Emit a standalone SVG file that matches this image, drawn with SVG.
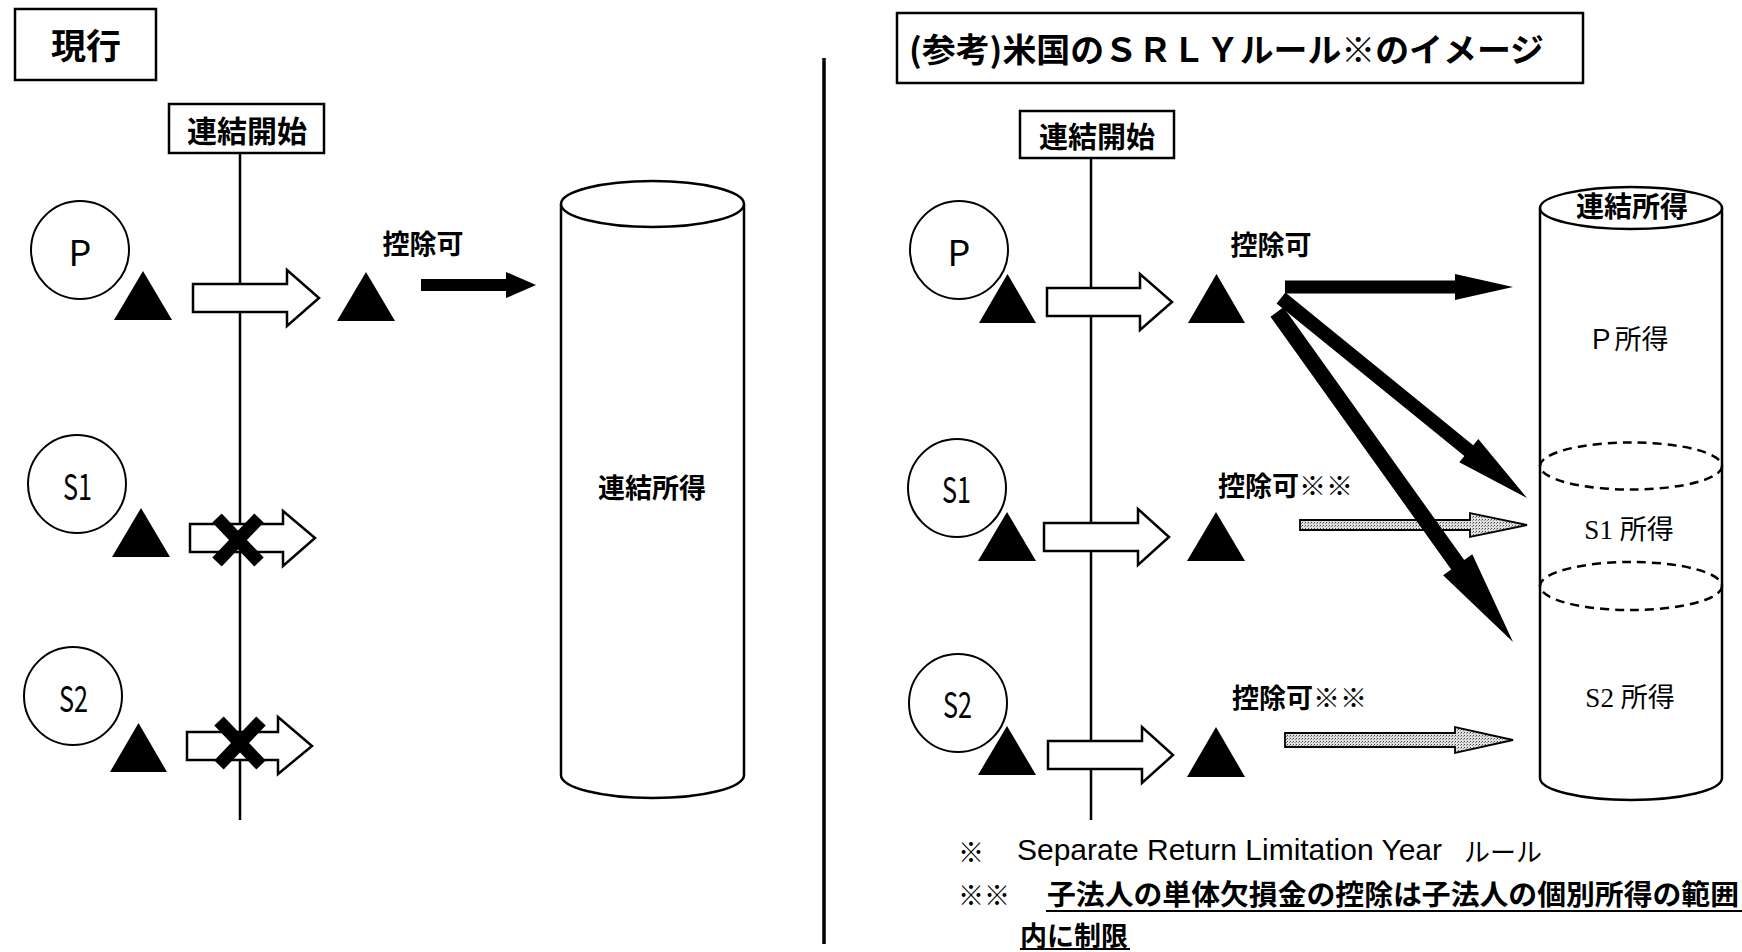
<svg xmlns="http://www.w3.org/2000/svg" width="1742" height="952" viewBox="0 0 1742 952">
<defs>
<style>
.t{font-family:'Noto Sans CJK JP','Liberation Sans',sans-serif;fill:#000}
.b{font-weight:700}
.c{text-anchor:middle;dominant-baseline:central}
.m{dominant-baseline:central}
.box{fill:#fff;stroke:#000;stroke-width:2.5}
.ln{stroke:#000;stroke-width:2.5;fill:none}
.circ{fill:#fff;stroke:#000;stroke-width:2}
.tri{fill:#000}
.hol{fill:#fff;stroke:#000;stroke-width:2.5;stroke-linejoin:miter}
.blk{fill:#000}
.gry{fill:url(#stip);stroke:#000;stroke-width:1.8}
.cyl{fill:#fff;stroke:#000;stroke-width:2.5}
.dash{fill:none;stroke:#000;stroke-width:2.5;stroke-dasharray:9 6}
.x{stroke:#000;stroke-width:13}
.ser{font-family:'Liberation Serif','Noto Sans CJK JP',serif}
</style>
<pattern id="stip" width="3" height="3" patternUnits="userSpaceOnUse">
<rect width="3" height="3" fill="#e0e0e0"/>
<rect width="1" height="1" fill="#444"/>
<rect x="2" y="1" width="1" height="1" fill="#888"/>
</pattern>
</defs>
<rect width="1742" height="952" fill="#fff"/>

<!-- LEFT PANEL -->
<g id="label-current">
<rect class="box" x="15" y="9" width="141" height="71"/>
<text class="t b c" x="86" y="43" font-size="35">現行</text>
</g>
<line id="timeline-left" class="ln" x1="240" y1="153" x2="240" y2="820"/>
<g id="start-left">
<rect class="box" x="169" y="104" width="155" height="49"/>
<text class="t b c" x="247" y="129" font-size="30">連結開始</text>
</g>

<g id="node-P-left">
<circle class="circ" cx="80" cy="250" r="49"/>
<text class="t c" x="80" y="250" font-size="36" font-family="Liberation Sans, sans-serif">P</text>
<polygon class="tri" points="143,271 114,320 172,320"/>
</g>
<g id="node-S1-left">
<circle class="circ" cx="77" cy="484" r="49"/>
<text class="t m" x="63" y="484" font-size="36" textLength="29" lengthAdjust="spacingAndGlyphs" font-family="Liberation Sans, sans-serif">S1</text>
<polygon class="tri" points="141,508 112,557 170,557"/>
</g>
<g id="node-S2-left">
<circle class="circ" cx="73" cy="696" r="49"/>
<text class="t m" x="59" y="696" font-size="36" textLength="29" lengthAdjust="spacingAndGlyphs" font-family="Liberation Sans, sans-serif">S2</text>
<polygon class="tri" points="138.5,723 110,772 167,772"/>
</g>
<g id="loss-P-left">
<polygon class="tri" points="366,272 337,321 395,321"/>
<text class="t b c" x="423" y="242" font-size="27">控除可</text>
</g>
<g id="cyl-left">
<path class="cyl" d="M561,204 V775 A91.5,23 0 0 0 744,775 V204"/>
<ellipse class="cyl" cx="652.5" cy="204" rx="91.5" ry="23"/>
<text class="t b c" x="652" y="486" font-size="27">連結所得</text>
</g>

<!-- DIVIDER -->
<line id="divider" x1="824" y1="58" x2="824" y2="944" stroke="#000" stroke-width="3.5"/>

<!-- RIGHT PANEL -->
<g id="title-ref">
<rect class="box" x="897" y="13" width="686" height="70"/>
<text class="t b m" x="909" y="48" font-size="33" textLength="635" lengthAdjust="spacingAndGlyphs">(参考)米国のＳＲＬＹルール※のイメージ</text>
</g>
<line id="timeline-right" class="ln" x1="1091" y1="158" x2="1091" y2="820"/>
<g id="start-right">
<rect class="box" x="1020" y="111" width="154" height="47"/>
<text class="t b c" x="1097" y="135" font-size="29">連結開始</text>
</g>
<g id="node-P-right">
<circle class="circ" cx="959" cy="250" r="49"/>
<text class="t c" x="959" y="250" font-size="36" font-family="Liberation Sans, sans-serif">P</text>
<polygon class="tri" points="1007.5,274 979,323 1036,323"/>
</g>
<g id="node-S1-right">
<circle class="circ" cx="957" cy="488" r="49"/>
<text class="t m" x="942" y="487" font-size="36" textLength="29" lengthAdjust="spacingAndGlyphs" font-family="Liberation Sans, sans-serif">S1</text>
<polygon class="tri" points="1007,512 978,561 1036,561"/>
</g>
<g id="node-S2-right">
<circle class="circ" cx="958" cy="703" r="49"/>
<text class="t m" x="943" y="702" font-size="36" textLength="29" lengthAdjust="spacingAndGlyphs" font-family="Liberation Sans, sans-serif">S2</text>
<polygon class="tri" points="1007,726 978,775 1036,775"/>
</g>
<g id="loss-P-right">
<polygon class="tri" points="1216.5,274 1188,323 1245,323"/>
<text class="t b c" x="1271" y="243" font-size="27">控除可</text>
</g>
<g id="loss-S1-right">
<polygon class="tri" points="1216,512 1187,561 1245,561"/>
<text class="t b m" x="1218" y="484" font-size="27">控除可※※</text>
</g>
<g id="loss-S2-right">
<polygon class="tri" points="1216,727 1187,777 1245,777"/>
<text class="t b m" x="1232" y="696" font-size="27">控除可※※</text>
</g>
<g id="cyl-right">
<path class="cyl" d="M1540,208 V778 A91,22 0 0 0 1722,778 V208"/>
<ellipse class="cyl" cx="1631" cy="208" rx="91" ry="21"/>
<text class="t b c" x="1632" y="205" font-size="28">連結所得</text>
<ellipse class="dash" cx="1631" cy="466" rx="91" ry="23.5"/>
<ellipse class="dash" cx="1631" cy="586" rx="91" ry="24"/>
<text class="c ser" x="1628" y="340" font-size="27">Ｐ所得</text>
<text class="c ser" x="1629" y="530" font-size="27">S1 所得</text>
<text class="c ser" x="1630" y="698" font-size="27">S2 所得</text>
</g>

<!-- CONNECTORS -->
<g id="connectors">
<path class="hol" d="M193,284 H287 V270 L319,298 L287,326 V312 H193 Z"/>
<path class="hol" d="M190,524 H283 V511 L315,538 L283,566 V552 H190 Z"/>
<path class="hol" d="M187,732 H278 V717 L312,746 L278,774 V760 H187 Z"/>
<line class="x" x1="217" y1="518" x2="259" y2="562"/>
<line class="x" x1="259" y1="518" x2="217" y2="562"/>
<line class="x" x1="219" y1="721" x2="261" y2="765"/>
<line class="x" x1="261" y1="721" x2="219" y2="765"/>
<polygon class="blk" points="421,279 506,279 506,272 536,285 506,298 506,291 421,291"/>

<path class="hol" d="M1047,288 H1140 V274 L1172,302 L1140,330 V316 H1047 Z"/>
<path class="hol" d="M1044,523 H1138 V509 L1169,537 L1138,565 V551 H1044 Z"/>
<path class="hol" d="M1048,741 H1142 V727 L1173,755 L1142,783 V769 H1048 Z"/>
<path class="gry" d="M1300,520 H1470 V513 L1527,525 L1470,537 V530 H1300 Z"/>
<path class="gry" d="M1285,733 H1455 V727 L1513,740 L1455,753 V747 H1285 Z"/>
<polygon class="blk" points="1285,280.5 1455,280.5 1455,274 1513,287 1455,300 1455,293.5 1285,293.5"/>
<polygon class="blk" points="1285.4,292.6 1473.2,445.3 1478.3,439.1 1527,498 1459.3,462.3 1464.4,456.1 1276.6,303.4"/>
<polygon class="blk" points="1283.5,307.3 1464.2,560.1 1472.3,554.3 1513,642 1443.1,575.3 1451.2,569.5 1270.5,316.7"/>
</g>

<!-- FOOTNOTES -->
<g id="notes">
<text class="t m" x="958" y="850" font-size="26">※</text>
<text class="m" x="1017" y="850" font-size="29" font-family="Liberation Sans, sans-serif" textLength="425" lengthAdjust="spacingAndGlyphs">Separate Return Limitation Year</text>
<text class="t m" x="1464" y="850" font-size="26" textLength="78" lengthAdjust="spacingAndGlyphs">ルール</text>
<text class="t m" x="958" y="893" font-size="26">※※</text>
<text class="t b m" x="1047" y="893" font-size="28" textLength="692" lengthAdjust="spacingAndGlyphs">子法人の単体欠損金の控除は子法人の個別所得の範囲</text>
<line x1="1046" y1="911" x2="1742" y2="911" stroke="#000" stroke-width="2"/>
<text class="t b m" x="1020" y="934" font-size="27">内に制限</text>
<line x1="1020" y1="949" x2="1130" y2="949" stroke="#000" stroke-width="2"/>
</g>
</svg>
